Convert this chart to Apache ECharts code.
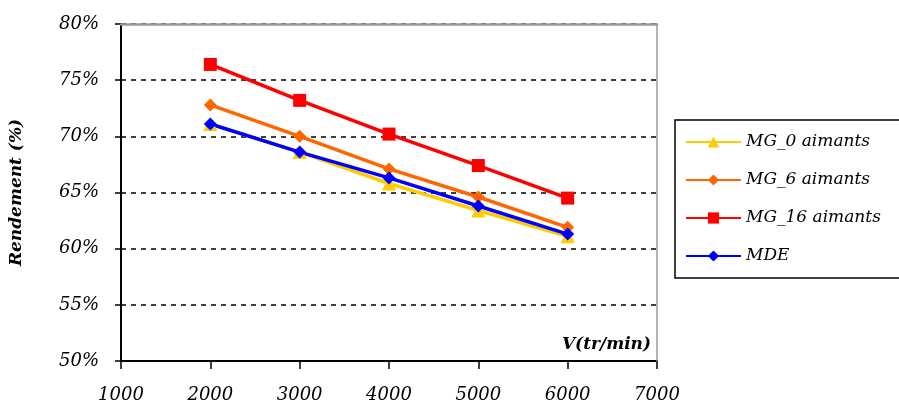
<!DOCTYPE html>
<html>
<head>
<meta charset="utf-8">
<script src="https://cdn.jsdelivr.net/npm/echarts@6/dist/echarts.min.js"></script>
<style>
html,body{margin:0;padding:0;background:#fff;}
#c{width:899px;height:405px;}
</style>
</head>
<body>
<div id="c"></div>
<script>
const speeds = [2000, 3000, 4000, 5000, 6000];
const mg0 = [71.1, 68.6, 65.8, 63.4, 61.1];
const mg6 = [72.8, 70.0, 67.1, 64.6, 61.9];
const mg16 = [76.4, 73.2, 70.2, 67.4, 64.5];
const mde = [71.1, 68.6, 66.3, 63.8, 61.3];
const seriesNames = ['MG_0 aimants', 'MG_6 aimants', 'MG_16 aimants', 'MDE'];

const FONT = 'DejaVu Serif';
const pair = arr => speeds.map((s, i) => [s, arr[i]]);

const chart = echarts.init(document.getElementById('c'));
function mk(name, data, color, symbol, size) {
  return {
    name: name, type: 'line', data: pair(data),
    symbol: symbol, symbolSize: size, showSymbol: true,
    lineStyle: {color: color, width: 3.5},
    itemStyle: {color: color},
    emphasis: {disabled: true}
  };
}
chart.setOption({
  animation: false,
  backgroundColor: '#fff',
  grid: {left: 121, right: 242, top: 24, bottom: 44},
  legend: {
    orient: 'vertical', left: 675, top: 120,
    data: seriesNames,
    borderColor: '#000', borderWidth: 1.5,
    padding: [12, 40, 12, 10],
    itemWidth: 55, itemHeight: 14, itemGap: 18,
    textStyle: {fontFamily: FONT, fontStyle: 'italic', fontSize: 17, color: '#000', lineHeight: 20}
  },
  xAxis: [{
    type: 'value', min: 1000, max: 7000, interval: 1000,
    name: 'V(tr/min)', nameLocation: 'end', nameGap: -6,
    nameTextStyle: {fontFamily: FONT, fontStyle: 'italic', fontWeight: 'bold', fontSize: 17, color: '#000', align: 'right', verticalAlign: 'bottom', padding: [0, 0, 8, 0]},
    axisLine: {show: true, onZero: false, lineStyle: {color: '#000', width: 2}},
    axisTick: {show: true, length: 8, lineStyle: {color: '#000', width: 1.5}},
    axisLabel: {fontFamily: FONT, fontStyle: 'italic', fontSize: 18, color: '#000', margin: 25, formatter: function (v) { return String(v); }},
    splitLine: {show: false}
  }, {
    type: 'value', position: 'top', min: 1000, max: 7000, interval: 1000, z: 10,
    axisLine: {show: true, lineStyle: {color: '#999', width: 2.5}},
    axisTick: {show: false}, axisLabel: {show: false}, splitLine: {show: false}
  }],
  yAxis: [{
    type: 'value', min: 50, max: 80, interval: 5,
    name: 'Rendement (%)', nameLocation: 'middle', nameGap: 96,
    nameTextStyle: {fontFamily: FONT, fontStyle: 'italic', fontWeight: 'bold', fontSize: 17, color: '#000'},
    axisLine: {show: true, lineStyle: {color: '#000', width: 2}},
    axisTick: {show: true, length: 6, lineStyle: {color: '#000', width: 1.5}},
    axisLabel: {fontFamily: FONT, fontStyle: 'italic', fontSize: 18, color: '#000', margin: 22, formatter: function (v) { return v + '%'; }},
    splitLine: {show: true, lineStyle: {color: '#000', type: [5, 5], width: 1.5}}
  }, {
    type: 'value', position: 'right', min: 50, max: 80, interval: 5, z: 10,
    axisLine: {show: true, lineStyle: {color: '#999', width: 1.5}},
    axisTick: {show: false}, axisLabel: {show: false}, splitLine: {show: false}
  }],
  series: [
    mk(seriesNames[0], mg0, '#FFCC00', 'triangle', 14),
    mk(seriesNames[1], mg6, '#FF6600', 'diamond', 13),
    mk(seriesNames[2], mg16, '#FF0000', 'rect', 13),
    mk(seriesNames[3], mde, '#0000FF', 'diamond', 13)
  ]
});
</script>
</body>
</html>
